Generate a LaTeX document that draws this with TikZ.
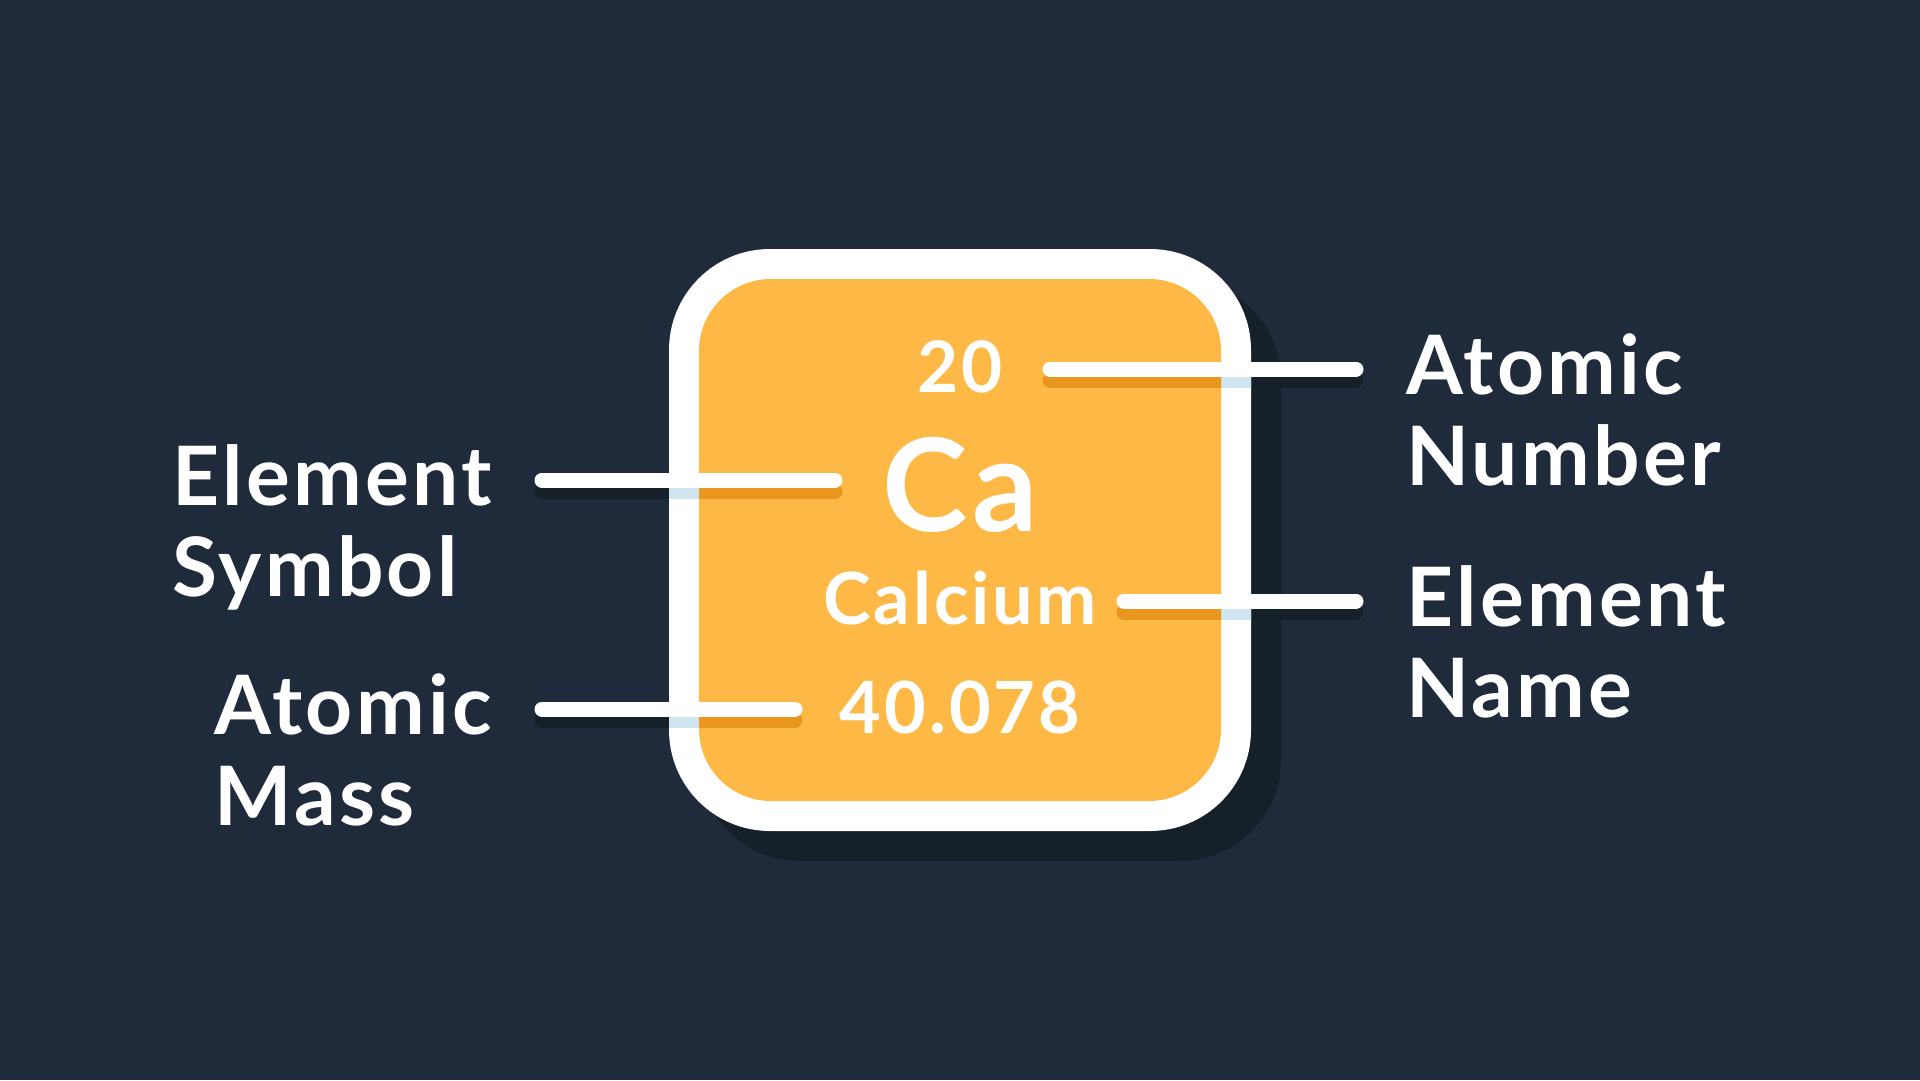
\documentclass[tikz,border=0pt]{standalone}
\usepackage{fontspec}
\setmainfont{Lato}[LetterSpace=4]
\usepackage{tikz}
\usetikzlibrary{positioning,calc}

\definecolor{bgnavy}{HTML}{1F2A3B}
\definecolor{shadenavy}{HTML}{162029}
\definecolor{tileorange}{HTML}{FDB845}
\definecolor{shadeorange}{HTML}{E9961E}
\definecolor{shadeblue}{HTML}{CFE5F1}

\tikzset{
  tiletext/.style={text=white, inner sep=0pt, anchor=base},
  tag/.style={text=white, inner sep=0pt, align=left,
    font=\fontsize{82}{91}\selectfont\bfseries},
  pointer/.style={white, line width=15pt, line cap=round},
  pointershade/.style={line width=15pt, line cap=round},
}

\begin{document}
\begin{tikzpicture}[x=1pt, y=-1pt]

  % Background
\fill[bgnavy] (0,0) rectangle (1920,1080);
\useasboundingbox (0,0) rectangle (1920,1080);

  % Pointer ends
\coordinate (numA)  at (1050,369);
\coordinate (numB)  at (1356,369);
\coordinate (symA)  at (835,480);
\coordinate (symB)  at (542,480);
\coordinate (nameA) at (1124,601);
\coordinate (nameB) at (1356,601);
\coordinate (massA) at (795,709);
\coordinate (massB) at (542,709);

  % Tile with its shadow
\fill[shadenavy, rounded corners=101pt] (699,279) rectangle (1281,861);
\foreach \a/\b in {numA/numB, symA/symB, nameA/nameB, massA/massB}
  \draw[pointershade, shadenavy] ([yshift=-11pt]\a) -- ([yshift=-11pt]\b);
\fill[white, rounded corners=101pt] (669,249) rectangle (1251,831);
\begin{scope}
  \clip[rounded corners=101pt] (669,249) rectangle (1251,831);
  \foreach \a/\b in {numA/numB, symA/symB, nameA/nameB, massA/massB}
    \draw[pointershade, shadeblue] ([yshift=-11pt]\a) -- ([yshift=-11pt]\b);
\end{scope}
\fill[tileorange, rounded corners=72pt] (699,279) rectangle (1221,801);
\begin{scope}
  \clip[rounded corners=72pt] (699,279) rectangle (1221,801);
  \foreach \a/\b in {numA/numB, symA/symB, nameA/nameB, massA/massB}
    \draw[pointershade, shadeorange] ([yshift=-11pt]\a) -- ([yshift=-11pt]\b);
\end{scope}

  % Tile text
\node[tiletext, font=\fontsize{71}{71}\selectfont\bfseries]  (num)  at (960,392) {20};
\node[tiletext, font=\fontsize{129}{129}\selectfont\bfseries] (sym)  at (960,531) {Ca};
\node[tiletext, font=\fontsize{72}{72}\selectfont\bfseries]  (name) at (960,624) {Calcium};
\node[tiletext, font=\fontsize{72}{72}\selectfont\bfseries]  (mass) at (960,733) {40.078};

  % Labels (base anchor sits on the second line)
\node[tag, anchor=base west] (numtag)  at ($(numB)+(50,116)$)  {Atomic\\Number};
\node[tag, anchor=base west] (nametag) at ($(nameB)+(50,116)$) {Element\\Name};
\node[tag, anchor=base east] (symtag)  at ($(symB)+(-50,116)$) {Element\\Symbol};
\node[tag, anchor=base east] (masstag) at ($(massB)+(-50,116)$) {Atomic\\Mass};

  % Pointers
\foreach \a/\b in {numA/numB, symA/symB, nameA/nameB, massA/massB}
  \draw[pointer] (\a) -- (\b);

\end{tikzpicture}
\end{document}
